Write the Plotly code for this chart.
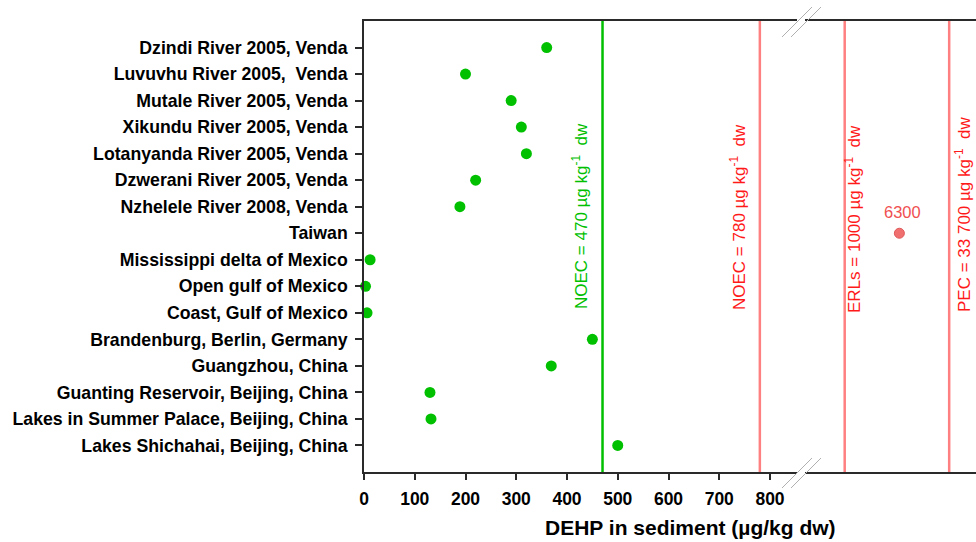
import plotly.graph_objects as go

# ---------------- data ----------------
sites = [
    "Dzindi River 2005, Venda",
    "Luvuvhu River 2005,  Venda",
    "Mutale River 2005, Venda",
    "Xikundu River 2005, Venda",
    "Lotanyanda River 2005, Venda",
    "Dzwerani River 2005, Venda",
    "Nzhelele River 2008, Venda",
    "Taiwan",
    "Mississippi delta of Mexico",
    "Open gulf of Mexico",
    "Coast, Gulf of Mexico",
    "Brandenburg, Berlin, Germany",
    "Guangzhou, China",
    "Guanting Reservoir, Beijing, China",
    "Lakes in Summer Palace, Beijing, China",
    "Lakes Shichahai, Beijing, China",
]
low_sites = [s for s in sites if s != "Taiwan"]
low_values = [360, 200, 290, 310, 320, 220, 189, 12, 3, 6, 450, 369, 130, 132, 500]
high_site = "Taiwan"
high_value = 6300

noec_green = 470
noec_red = 780
erls = 1000
pec = 33700

x_ticks = [0, 100, 200, 300, 400, 500, 600, 700, 800]

# ---------------- geometry helpers ----------------
W, H = 976, 542
L, T, B, R = 364, 21, 70, 0
PW = W - L - R
PH = H - T - B


def px_x(p):  # p: screen pixel
    return (p - L) / PW


def px_y(p):
    return (H - B - p) / PH


GREEN = "#00c000"
RED_LINE = "#ff8080"
RED_TXT = "#ff1a1a"
AX = "#2a2a2a"
FONT = "Arial, Liberation Sans, sans-serif"

fig = go.Figure()

# threshold lines (drawn as traces on a hidden 0..1 overlay y axis)
fig.add_trace(go.Scatter(x=[noec_green, noec_green], y=[0, 1], mode="lines", xaxis="x", yaxis="y2",
                         line=dict(color=GREEN, width=2.5), showlegend=False, hoverinfo="skip"))
fig.add_trace(go.Scatter(x=[noec_red, noec_red], y=[0, 1], mode="lines", xaxis="x", yaxis="y2",
                         line=dict(color=RED_LINE, width=2.5), showlegend=False, hoverinfo="skip"))
for v in (erls, pec):
    fig.add_trace(go.Scatter(x=[v, v], y=[0, 1], mode="lines", xaxis="x2", yaxis="y2",
                             line=dict(color=RED_LINE, width=2.5), showlegend=False, hoverinfo="skip"))

fig.add_trace(go.Scatter(
    x=low_values, y=low_sites, mode="markers", xaxis="x", yaxis="y",
    marker=dict(size=11, color=GREEN), showlegend=False, cliponaxis=False,
))
fig.add_trace(go.Scatter(
    x=[high_value], y=[high_site], mode="markers", xaxis="x2", yaxis="y",
    marker=dict(size=10, color="#f07070", line=dict(color="#e05858", width=1)),
    showlegend=False,
))

shapes = []
# axis break marks (top and bottom)
for yc in (21, 472):
    for dx in (0, 9):
        shapes.append(dict(type="line", xref="paper", yref="paper",
                           x0=px_x(782 + dx), y0=px_y(yc + 16),
                           x1=px_x(812 + dx), y1=px_y(yc - 14),
                           line=dict(color="#b0b0b0", width=1)))

annotations = []
afont = 17
annotations.append(dict(text="NOEC = 470 µg kg<sup>-1</sup>  dw", x=px_x(580), xref="paper",
                        y=px_y(216), yref="paper", textangle=-90, showarrow=False,
                        xanchor="center", yanchor="middle",
                        font=dict(family=FONT, size=afont, color=GREEN)))
annotations.append(dict(text="NOEC = 780 µg kg<sup>-1</sup>  dw", x=px_x(738), xref="paper",
                        y=px_y(217), yref="paper", textangle=-90, showarrow=False,
                        xanchor="center", yanchor="middle",
                        font=dict(family=FONT, size=afont, color=RED_TXT)))
annotations.append(dict(text="ERLs = 1000 µg kg<sup>-1</sup>  dw", x=px_x(853), xref="paper",
                        y=px_y(219), yref="paper", textangle=-90, showarrow=False,
                        xanchor="center", yanchor="middle",
                        font=dict(family=FONT, size=afont, color=RED_TXT)))
annotations.append(dict(text="PEC = 33 700 µg kg<sup>-1</sup>  dw", x=px_x(963), xref="paper",
                        y=px_y(215), yref="paper", textangle=-90, showarrow=False,
                        xanchor="center", yanchor="middle",
                        font=dict(family=FONT, size=afont, color=RED_TXT)))
annotations.append(dict(text=str(high_value), x=px_x(902), xref="paper",
                        y=px_y(212), yref="paper", showarrow=False,
                        xanchor="center", yanchor="middle",
                        font=dict(family=FONT, size=16.5, color="#f05050")))
annotations.append(dict(text="<b>DEHP in sediment (µg/kg dw)</b>", x=px_x(690), xref="paper",
                        y=px_y(527), yref="paper", showarrow=False,
                        xanchor="center", yanchor="middle",
                        font=dict(family=FONT, size=21, color="black")))

fig.update_layout(
    width=W, height=H,
    margin=dict(l=L, r=R, t=T, b=B),
    paper_bgcolor="white", plot_bgcolor="white",
    font=dict(family=FONT, color="black"),
    shapes=shapes, annotations=annotations,
    xaxis=dict(
        domain=[0, px_x(797)], range=[0, (797 - 364) / 0.5075],
        tickvals=x_ticks, ticks="outside", ticklen=6, tickwidth=1.5, tickcolor=AX,
        showline=True, linecolor=AX, linewidth=1.5, mirror=True,
        showgrid=False, zeroline=False,
        tickfont=dict(family=FONT, size=17.5, color="black", weight="bold"),
        ticklabelstandoff=4,
        anchor="y",
    ),
    xaxis2=dict(
        domain=[px_x(805), 1], type="log",
        range=[(805 - 639.5) / 68.4, (976 - 639.5) / 68.4],
        showticklabels=False, ticks="", showline=True, linecolor=AX, linewidth=1.5,
        mirror=True, showgrid=False, zeroline=False, anchor="y",
    ),
    yaxis=dict(
        type="category", categoryorder="array", categoryarray=list(reversed(sites)),
        range=[-1, len(sites)], ticks="outside", ticklen=7, tickwidth=1.5, tickcolor=AX,
        showline=True, linecolor=AX, linewidth=1.5, showgrid=False, zeroline=False,
        tickfont=dict(family=FONT, size=17.7, color="black", weight="bold"),
        ticklabelstandoff=4,
    ),
    yaxis2=dict(overlaying="y", range=[0, 1], visible=False, fixedrange=True),
)

fig.write_html(
    "out.html",
    config={"displayModeBar": False},
    post_script="document.body.style.margin='0';document.body.style.overflow='hidden';",
)
